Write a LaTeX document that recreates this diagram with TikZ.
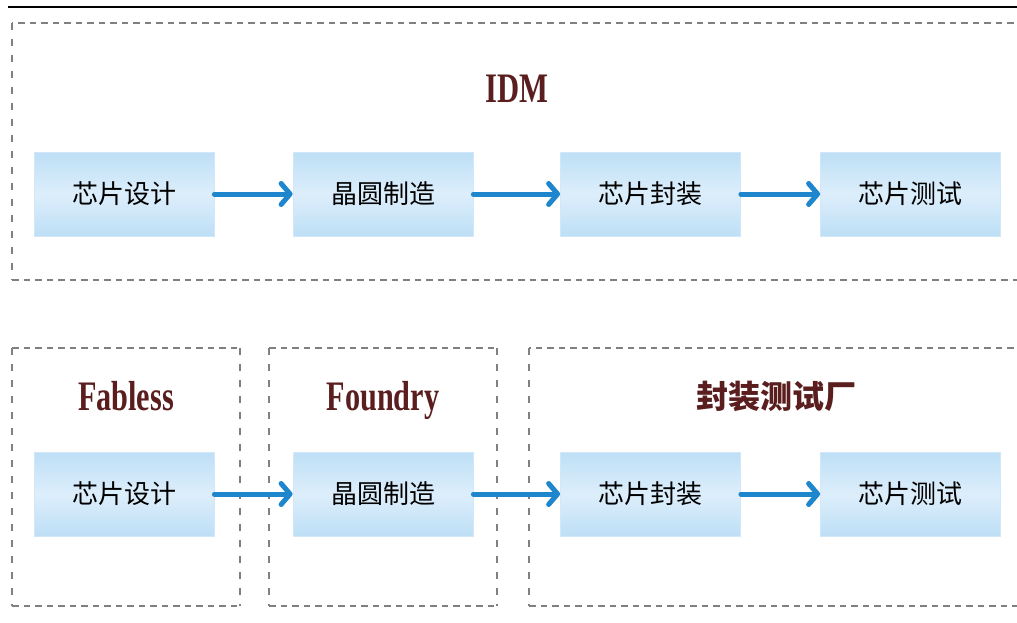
\documentclass[tikz,border=0pt]{standalone}
\usepackage{fontspec}
\setmainfont{Liberation Serif}
\newfontfamily\cjk{Noto Sans CJK SC}
\usetikzlibrary{arrows.meta}
\definecolor{boxtop}{RGB}{189,223,246}
\definecolor{boxmid}{RGB}{221,238,251}
\definecolor{boxedge}{RGB}{210,232,249}
\definecolor{arrowblue}{RGB}{30,134,204}
\definecolor{titlebrown}{RGB}{90,30,30}
\definecolor{dashgray}{RGB}{128,128,128}
\tikzset{
  stagebox/.style={minimum width=180pt, minimum height=84pt, inner sep=0pt,
    top color=boxtop, bottom color=boxtop, middle color=boxmid,
    draw=boxedge, line width=0.8pt, font=\cjk\fontsize{26pt}{26pt}\selectfont},
  flow/.style={draw=arrowblue, line width=5pt, line cap=round,
    -{Straight Barb[length=9pt, width=21pt, round]}},
  hdash/.style={draw=dashgray, line width=2.6pt, dash pattern=on 6.5pt off 5pt},
  vdash/.style={draw=dashgray, line width=2.6pt, dash pattern=on 7pt off 9pt},
  lattitle/.style={anchor=base, text=titlebrown, font=\bfseries\fontsize{42pt}{42pt}\selectfont, inner sep=0pt},
  cjktitle/.style={anchor=base, text=titlebrown, font=\cjk\bfseries\fontsize{32pt}{32pt}\selectfont, inner sep=0pt},
}
\begin{document}
\begin{tikzpicture}[x=1pt, y=-1pt]
\useasboundingbox (0,0) rectangle (1017,623);
% top rule
\draw[line width=2pt, black] (8,7) -- (1017,7);
% IDM frame (open on right)
\draw[hdash] (1025,23) -- (12,23);
\draw[hdash] (12,280) -- (1025,280);
\draw[vdash] (12,23) -- (12,280);
% Fabless frame
\draw[hdash] (12,348) -- (240,348);
\draw[hdash] (12,606) -- (240,606);
\draw[vdash] (12,348) -- (12,606);
\draw[vdash] (240,348) -- (240,606);
% Foundry frame
\draw[hdash] (269,348) -- (497,348);
\draw[hdash] (269,606) -- (497,606);
\draw[vdash] (269,348) -- (269,606);
\draw[vdash] (497,348) -- (497,606);
% OSAT frame (open on right)
\draw[hdash] (1025,348) -- (529,348);
\draw[hdash] (529,606) -- (1025,606);
\draw[vdash] (529,348) -- (529,606);
% titles
\node[lattitle] (tidm) at (517,103) {\scalebox{0.73}[1]{IDM}};
\node[lattitle] (tfab) at (126,410) {\scalebox{0.72}[1]{Fabless}};
\node[lattitle] (tfou) at (383,410) {\scalebox{0.72}[1]{Foundry}};
\node[cjktitle] (tosat) at (776,408) {封装测试厂};
% top row
\node[stagebox] (a1) at (124,194) {芯片设计};
\node[stagebox] (a2) at (383,194) {晶圆制造};
\node[stagebox] (a3) at (650.5,194) {芯片封装};
\node[stagebox] (a4) at (910.5,194) {芯片测试};
% bottom row
\node[stagebox] (b1) at (124,494) {芯片设计};
\node[stagebox] (b2) at (383,494) {晶圆制造};
\node[stagebox] (b3) at (650.5,494) {芯片封装};
\node[stagebox] (b4) at (910.5,494) {芯片测试};
% arrows
\draw[flow] (a1.east) -- (a2.west);
\draw[flow] (a2.east) -- (a3.west);
\draw[flow] (a3.east) -- (a4.west);
\draw[flow] (b1.east) -- (b2.west);
\draw[flow] (b2.east) -- (b3.west);
\draw[flow] (b3.east) -- (b4.west);
\end{tikzpicture}
\end{document}
